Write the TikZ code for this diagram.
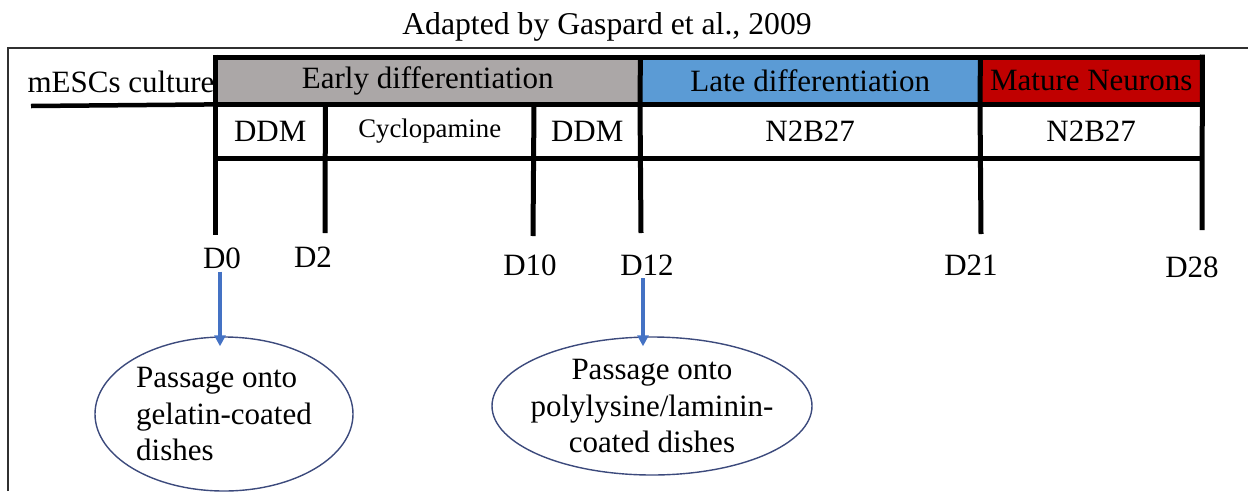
\documentclass[tikz,border=0pt]{standalone}
\usepackage{fontspec}
\setmainfont{Liberation Serif}
\usetikzlibrary{arrows.meta,shapes.geometric,calc}
\definecolor{earlygray}{HTML}{ABA7A7}
\definecolor{lateblue}{HTML}{5B9BD5}
\definecolor{maturered}{HTML}{C00000}
\definecolor{arrowblue}{HTML}{4472C4}
\definecolor{ellipseline}{HTML}{3C4A7C}
\definecolor{framegray}{HTML}{303030}
\tikzset{
  txt/.style={font=\fontsize{31}{37}\selectfont, inner sep=0pt},
  cell/.style={anchor=north west, inner sep=0pt, font=\fontsize{31}{37}\selectfont},
  heavy/.style={line width=5pt, black},
  tick/.style={line width=5pt, black},
  arr/.style={line width=3.5pt, arrowblue, -{Triangle[length=11pt,width=11pt]}},
  passage/.style={ellipse, draw=ellipseline, line width=1.4pt, inner sep=0pt,
                  font=\fontsize{31}{36.5}\selectfont},
}
\begin{document}
\begin{tikzpicture}[x=1pt,y=-1pt]
\useasboundingbox (0,0) rectangle (1248,491);
% title
\node[txt, font=\fontsize{31.7}{37}\selectfont] (title) at (607,27) {Adapted by Gaspard et al., 2009};
% outer frame
\draw[framegray, line width=2pt] (8,491) -- (8,48) -- (1248,48);
% row 1 cells
\node[cell, fill=earlygray, minimum width=425pt, minimum height=47pt] (early) at (215,57) {Early differentiation};
\node[cell, fill=lateblue, minimum width=340pt, minimum height=47pt] (late) at (640,57) {Late differentiation};
\node[cell, fill=maturered, minimum width=222pt, minimum height=47pt] (mature) at (980,57) {Mature Neurons};
% row 2 cells
\node[cell, minimum width=110pt, minimum height=54pt] (ddma) at (215,104) {DDM};
\node[cell, minimum width=209pt, minimum height=54pt, font=\fontsize{26.8}{32}\selectfont] (cyc) at (325,104) {Cyclopamine};
\node[cell, minimum width=106pt, minimum height=54pt] (ddmb) at (534,104) {DDM};
\node[cell, minimum width=340pt, minimum height=54pt] (n2ba) at (640,104) {N2B27};
\node[cell, minimum width=222pt, minimum height=54pt] (n2bb) at (980,104) {N2B27};
% mESCs culture
\node[txt] (mesc) at (121,82) {mESCs culture};
\draw[line width=4.5pt] (31,106) -- (early.south west);
% table borders
\draw[heavy] (early.north west) -- (mature.north east);
\draw[heavy] (early.south west) -- (mature.south east);
\draw[heavy] (ddma.south west) -- (n2bb.south east);
\draw[heavy] (early.north east) -- (n2ba.north west);
\draw[heavy] (late.north east) -- (n2bb.north west);
% ticks (cell borders extended downwards)
\draw[tick] ([yshift=2.5pt]early.north west) -- (215,235);
\draw[tick] (ddma.north east) -- (325,233);
\draw[tick] (ddmb.north west) -- (533,236);
\draw[tick] (n2ba.north west) -- (641,233);
\draw[tick] (n2bb.north west) -- (981,234);
\draw[tick] ([yshift=2.5pt]mature.north east) -- (1202,230);
% day labels
\node[txt] (d0) at (222,258) {D0};
\node[txt] (d2) at (313,257) {D2};
\node[txt] (d10) at (530,265) {D10};
\node[txt] (d12) at (647,265) {D12};
\node[txt] (d21) at (971,265) {D21};
\node[txt] (d28) at (1192,267) {D28};
% passage ellipses
\node[passage, minimum width=258pt, minimum height=154pt, align=left] (pa) at (224,414)
  {Passage onto\\gelatin-coated\\dishes};
\node[passage, minimum width=320pt, minimum height=138pt, align=center,
      inner xsep=-12pt, inner ysep=-6pt] (pb) at (652,406)
  {Passage onto\\polylysine/laminin-\\coated dishes};
% arrows
\draw[arr] ([xshift=-2pt,yshift=-3pt]d0.south) -- ($(pa.north)+(-4,10)$);
\draw[arr] ([xshift=-4pt,yshift=-3pt]d12.south) -- ($(pb.north)+(-9,10)$);
\end{tikzpicture}
\end{document}
